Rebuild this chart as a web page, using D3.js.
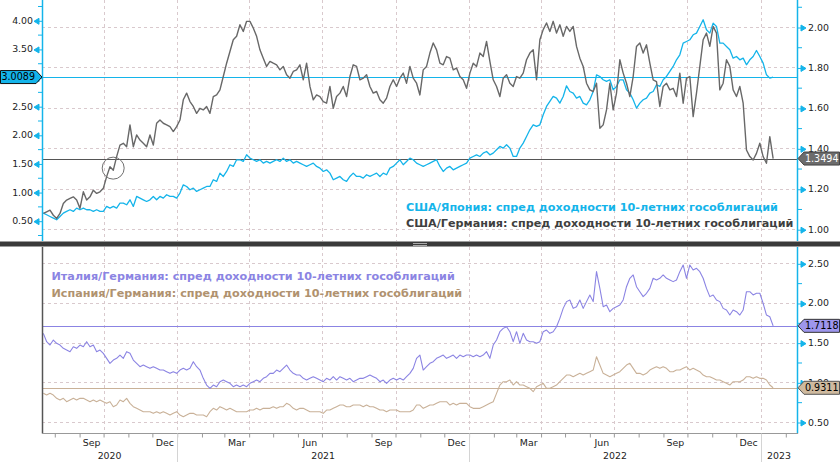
<!DOCTYPE html>
<html><head><meta charset="utf-8">
<script src="https://cdn.jsdelivr.net/npm/d3@7"></script>
<style>html,body{margin:0;padding:0;background:#fff;} svg{display:block;}</style>
</head><body>
<svg id="chart" width="840" height="462"></svg>
<script>
// ---------- DATA ----------
const startTime = [2020, 6, 17, 16];   // first observation (y, m-1, d, h)
const stepHours = 100;                 // spacing of observations

const usJapan = [
0.633,0.604,0.574,0.545,0.516,0.574,0.633,0.662,0.691,0.662,
0.720,0.691,0.720,0.691,0.691,0.662,0.691,0.662,0.662,0.749,
0.720,0.749,0.720,0.807,0.807,0.778,0.865,0.749,0.924,0.894,
0.865,0.836,0.865,0.924,0.865,0.924,0.894,0.953,0.924,0.924,
0.894,0.982,1.127,1.098,1.040,1.069,1.011,1.040,1.069,1.098,
1.098,1.215,1.186,1.331,1.273,1.360,1.477,1.448,1.564,1.564,
1.535,1.651,1.593,1.564,1.535,1.564,1.506,1.535,1.506,1.535,
1.564,1.535,1.593,1.535,1.564,1.506,1.535,1.506,1.477,1.448,
1.477,1.506,1.448,1.418,1.360,1.389,1.331,1.215,1.244,1.273,
1.215,1.186,1.273,1.331,1.273,1.273,1.244,1.302,1.273,1.302,
1.331,1.273,1.331,1.302,1.418,1.448,1.506,1.564,1.477,1.535,
1.593,1.564,1.506,1.477,
1.448,1.477,1.506,1.535,1.564,1.448,1.360,1.418,1.448,1.389,
1.418,1.448,1.477,1.506,1.593,1.622,1.651,1.622,1.680,1.709,
1.651,1.680,1.739,1.797,1.768,1.826,1.768,1.622,1.622,1.768,
1.855,1.971,2.088,2.175,2.146,2.175,2.350,2.495,2.583,2.670,
2.641,2.553,2.670,2.856,2.757,2.728,2.641,2.670,2.553,2.524,
2.612,2.757,3.048,3.019,2.961,2.932,2.961,2.786,2.845,2.961,
2.961,2.786,2.728,2.612,2.466,2.553,2.612,2.641,2.728,2.757,
2.874,2.845,2.961,3.019,3.107,3.194,3.310,3.398,3.601,3.630,
3.660,3.747,3.776,3.892,4.009,3.834,3.776,3.951,3.892,3.601,
3.601,3.543,3.485,3.339,3.368,3.310,3.339,3.223,3.310,3.368,
3.473,3.368,3.252,3.048,2.990,3.0089];

const usGermany = [
1.078,1.086,1.094,1.069,1.053,1.078,1.127,1.144,1.152,1.160,
1.144,1.103,1.185,1.144,1.160,1.193,1.177,1.185,1.202,1.260,
1.309,1.292,1.359,1.416,1.425,1.408,1.516,1.408,1.466,1.441,
1.425,1.408,1.466,1.416,1.524,1.540,1.524,1.516,1.507,1.483,
1.507,1.540,1.640,1.673,1.631,1.607,1.573,1.598,1.590,1.607,
1.573,1.656,1.664,1.689,1.755,1.821,1.879,1.937,1.954,2.011,
1.978,2.028,2.028,1.995,1.954,1.887,1.846,1.805,1.830,1.821,
1.813,1.788,1.805,1.764,1.747,1.780,1.788,1.813,1.739,1.821,
1.706,1.640,1.664,1.656,1.631,1.623,1.706,1.598,1.656,1.673,
1.706,1.656,1.755,1.813,1.805,1.739,1.747,1.764,1.706,1.673,
1.681,1.640,1.623,1.648,1.706,1.739,1.706,1.747,1.772,1.722,
1.805,1.747,1.722,1.664,
1.788,1.805,1.871,1.921,1.887,1.821,1.813,1.854,1.846,1.788,
1.797,1.755,1.739,1.697,1.772,1.821,1.805,1.871,1.854,1.929,
1.830,1.739,1.706,1.656,1.747,1.764,1.722,1.706,1.755,1.747,
1.772,1.838,1.871,1.887,1.739,1.937,1.987,2.020,1.978,2.028,
1.970,2.011,1.954,2.003,1.978,2.003,1.904,1.846,1.805,1.722,
1.689,1.681,1.722,1.499,1.516,1.590,1.722,1.590,1.673,1.838,
1.772,1.722,1.656,1.755,1.904,1.921,1.871,1.912,1.821,1.739,
1.730,1.607,1.706,1.722,1.689,1.697,1.656,1.772,1.623,1.747,
1.755,1.557,1.673,1.805,1.937,1.970,1.904,2.003,1.970,1.689,
1.722,1.838,1.805,1.689,1.656,1.706,1.623,1.392,1.359,1.342,
1.375,1.425,1.359,1.326,1.458,1.3494];

const italyGermany = [
1.617,1.512,1.470,1.533,1.491,1.470,1.428,1.407,1.386,1.449,
1.428,1.470,1.449,1.512,1.449,1.470,1.386,1.407,1.365,1.302,
1.239,1.281,1.302,1.344,1.302,1.386,1.365,1.281,1.239,1.197,
1.218,1.197,1.176,1.197,1.176,1.155,1.155,1.134,1.113,1.134,
1.113,1.155,1.176,1.155,1.176,1.260,1.197,1.155,1.050,0.966,
0.924,0.966,0.945,1.008,1.029,1.008,0.987,0.945,0.966,0.945,
0.966,0.945,0.987,1.008,1.029,1.008,1.050,1.071,1.113,1.113,
1.155,1.134,1.176,1.218,1.155,1.113,1.092,1.092,1.050,1.029,
1.050,1.071,1.050,1.029,1.008,1.050,1.029,1.071,1.029,1.071,
1.050,1.029,1.050,1.008,1.029,1.050,1.050,1.071,1.092,1.071,
1.050,1.008,1.029,0.987,1.029,1.050,1.029,1.050,1.029,1.071,
1.113,1.176,1.302,1.344,
1.155,1.197,1.239,1.260,1.302,1.323,1.344,1.302,1.323,1.344,
1.302,1.344,1.323,1.344,1.344,1.323,1.344,1.323,1.344,1.386,
1.302,1.470,1.533,1.638,1.680,1.701,1.638,1.512,1.638,1.491,
1.617,1.533,1.512,1.512,1.491,1.512,1.638,1.659,1.617,1.638,
1.701,1.806,1.932,2.017,2.038,1.932,1.953,2.038,1.932,2.017,
2.101,2.017,2.395,2.184,1.953,1.974,1.890,1.932,1.953,1.974,
2.038,2.205,2.311,2.353,2.205,2.142,2.080,2.122,2.184,2.311,
2.290,2.311,2.353,2.311,2.290,2.269,2.290,2.395,2.479,2.311,
2.479,2.416,2.437,2.395,2.311,2.184,2.080,2.101,2.038,2.017,
1.932,1.911,1.848,1.911,1.890,1.848,1.911,2.142,2.142,2.101,
2.122,2.122,1.995,1.848,1.827,1.7118];

const spainGermany = [
0.861,0.840,0.861,0.840,0.798,0.777,0.798,0.756,0.777,0.798,
0.777,0.798,0.798,0.777,0.756,0.777,0.756,0.777,0.756,0.735,
0.756,0.693,0.714,0.777,0.756,0.798,0.735,0.693,0.672,0.651,
0.630,0.630,0.630,0.609,0.630,0.609,0.630,0.609,0.588,0.609,
0.630,0.588,0.567,0.588,0.609,0.609,0.588,0.588,0.588,0.567,
0.630,0.672,0.651,0.693,0.672,0.651,0.672,0.651,0.630,0.630,
0.630,0.630,0.651,0.651,0.672,0.651,0.672,0.672,0.672,0.693,
0.672,0.693,0.693,0.735,0.714,0.672,0.651,0.672,0.672,0.651,
0.630,0.630,0.630,0.630,0.609,0.651,0.651,0.672,0.693,0.714,
0.714,0.693,0.693,0.714,0.714,0.714,0.693,0.714,0.693,0.693,
0.672,0.651,0.651,0.630,0.651,0.651,0.651,0.630,0.630,0.630,
0.630,0.651,0.714,0.714,
0.672,0.693,0.714,0.714,0.735,0.756,0.756,0.756,0.714,0.735,
0.714,0.735,0.735,0.735,0.693,0.672,0.672,0.672,0.693,0.714,
0.735,0.756,0.861,0.966,1.008,1.008,1.029,0.966,1.008,0.966,
0.966,0.945,0.924,0.882,0.945,0.966,0.987,0.924,0.924,0.945,
0.966,1.008,1.050,1.092,1.092,1.071,1.092,1.113,1.092,1.113,
1.134,1.155,1.323,1.218,1.113,1.092,1.071,1.092,1.113,1.134,
1.176,1.218,1.239,1.176,1.113,1.113,1.092,1.113,1.155,1.176,
1.197,1.176,1.197,1.176,1.134,1.134,1.155,1.155,1.176,1.197,
1.155,1.176,1.155,1.134,1.092,1.071,1.071,1.050,1.029,1.029,
1.008,0.987,0.966,1.008,1.008,1.008,1.029,1.071,1.071,1.050,
1.071,1.050,1.050,1.029,0.966,0.9311];

// 3.00 is covered by the last-value badge in the reference, so it carries no label
const leftTicksTop = [0.5, 1.0, 1.5, 2.0, 2.5, 3.5, 4.0];
const leftMarkersTop = [0.5, 1.0, 1.5, 2.0, 2.5, 3.0, 3.5, 4.0];
const leftMinorTop = [0.25, 0.75, 1.25, 1.75, 2.25, 2.75, 3.25, 3.75, 4.25];
const rightTicksTop = [1.0, 1.2, 1.4, 1.6, 1.8, 2.0];
const rightMinorTop = [1.1, 1.3, 1.5, 1.7, 1.9, 2.1];
const rightTicksBottom = [0.5, 1.0, 1.5, 2.0, 2.5];
const rightMinorBottom = [0.75, 1.25, 1.75, 2.25];
const monthNames = ["Jan","Feb","Mar","Apr","May","Jun","Jul","Aug","Sep","Oct","Nov","Dec"];
const labelledMonths = [2, 5, 8, 11];
const yearLabels = ["2020", "2021", "2022", "2023"];
const legendTop = ["США/Япония: спред доходности 10-летних гособлигаций",
                   "США/Германия: спред доходности 10-летних гособлигаций"];
const legendBottom = ["Италия/Германия: спред доходности 10-летних гособлигаций",
                      "Испания/Германия: спред доходности 10-летних гособлигаций"];
const circleNote = {date: [2020, 9, 13], value: 1.302};

// ---------- STYLE ----------
const C = {cyan:"#14b4ea", gray:"#686868", grayText:"#3f3f3f", purple:"#8b84e3", tan:"#c9b198",
           tanText:"#b0926f", grid:"#d9c9cd", axisText:"#222"};
const FONT = "DejaVu Sans";

const svg = d3.select("#chart");
const start = new Date(startTime[0], startTime[1], startTime[2], startTime[3]);
const dates = usJapan.map((_, i) => d3.timeHour.offset(start, i * stepHours));

const L = 42, R = 797;
const x = d3.scaleTime().domain([new Date(2020,6,16), new Date(2023,1,15)]).range([L, R]);
const yJp = d3.scaleLinear().domain([0.5, 4.0]).range([220.7, 20.3]);
const yDe = d3.scaleLinear().domain([1.0, 2.0]).range([229.2, 27.0]);
const yEu = d3.scaleLinear().domain([0.5, 2.5]).range([422.0, 263.3]);
const topY0 = 0, topY1 = 241, botY0 = 247, botY1 = 433.5;

// grid
const quarters = d3.timeMonth.every(3).range(x.domain()[0], x.domain()[1]);
const grid = svg.append("g").attr("stroke", C.grid).attr("stroke-dasharray", "3,3").attr("stroke-width", 1);
quarters.forEach(d => {
  const gx = Math.round(x(d)) + 0.5;
  grid.append("line").attr("x1", gx).attr("x2", gx).attr("y1", topY0).attr("y2", topY1);
  grid.append("line").attr("x1", gx).attr("x2", gx).attr("y1", botY0).attr("y2", botY1);
});
rightTicksTop.forEach(v => {
  const gy = Math.round(yDe(v)) + 0.5;
  grid.append("line").attr("x1", L).attr("x2", R).attr("y1", gy).attr("y2", gy);
});
rightTicksBottom.forEach(v => {
  const gy = Math.round(yEu(v)) + 0.5;
  grid.append("line").attr("x1", L).attr("x2", R).attr("y1", gy).attr("y2", gy);
});

// series
function series(vals, y, color, w) {
  const line = d3.line().x((d, i) => x(dates[i])).y(d => y(d));
  svg.append("path").datum(vals).attr("d", line).attr("fill", "none")
     .attr("stroke", color).attr("stroke-width", w).attr("stroke-linejoin", "round");
}
function hline(v, y, color) {
  const yy = Math.round(y(v)) + 0.5;
  svg.append("line").attr("x1", L).attr("x2", R).attr("y1", yy).attr("y2", yy)
     .attr("stroke", color).attr("stroke-width", 1.2);
}
hline(usJapan[usJapan.length-1], yJp, C.cyan);
hline(usGermany[usGermany.length-1], yDe, "#555");
hline(italyGermany[italyGermany.length-1], yEu, C.purple);
hline(spainGermany[spainGermany.length-1], yEu, C.tan);
series(usJapan, yJp, C.cyan, 1.3);
series(usGermany, yDe, C.gray, 1.4);
series(spainGermany, yEu, C.tan, 1.1);
series(italyGermany, yEu, C.purple, 1.1);

// circle annotation
svg.append("circle")
  .attr("cx", x(new Date(circleNote.date[0], circleNote.date[1], circleNote.date[2])))
  .attr("cy", yDe(circleNote.value)).attr("r", 11)
  .attr("fill", "none").attr("stroke", "#707070").attr("stroke-width", 1);

// axes lines
svg.append("line").attr("x1", L+0.5).attr("x2", L+0.5).attr("y1", 0).attr("y2", topY1).attr("stroke", C.cyan).attr("stroke-width", 1.5);
svg.append("line").attr("x1", R+0.5).attr("x2", R+0.5).attr("y1", 0).attr("y2", topY1).attr("stroke", C.cyan).attr("stroke-width", 1.5);
svg.append("line").attr("x1", L+0.5).attr("x2", L+0.5).attr("y1", botY0).attr("y2", botY1).attr("stroke", "#555").attr("stroke-width", 1.5);
svg.append("line").attr("x1", R+0.5).attr("x2", R+0.5).attr("y1", botY0).attr("y2", botY1).attr("stroke", C.cyan).attr("stroke-width", 1.5);
svg.append("line").attr("x1", L).attr("x2", R+1).attr("y1", botY1).attr("y2", botY1).attr("stroke", "#999").attr("stroke-width", 1);

// y axes with d3 axis generators
function yAxis(scale, ticks, markers, minor, side, xPos) {
  const s = side === "left" ? -1 : 1;
  const mk = (side === "left" ? d3.axisLeft(scale) : d3.axisRight(scale)).tickValues(markers).tickSize(0).tickFormat("");
  const gk = svg.append("g").attr("transform", `translate(${xPos},0)`).call(mk);
  gk.select(".domain").remove();
  gk.selectAll(".tick").append("path")
    .attr("d", `M0,0.5H${s*3}M${s*3},-2.5L${s*8},0.5L${s*3},3.5Z`)
    .attr("stroke", C.cyan).attr("fill", C.cyan).attr("stroke-width", 1);
  const gen = (side === "left" ? d3.axisLeft(scale) : d3.axisRight(scale))
     .tickValues(ticks).tickSize(0).tickPadding(side === "left" ? 9 : 10).tickFormat(d3.format(".2f"));
  const g = svg.append("g").attr("transform", `translate(${xPos},0)`).call(gen);
  g.select(".domain").remove();
  g.selectAll("text").attr("font-family", FONT).attr("font-size", 9.4).attr("fill", C.axisText);
  const gm = (side === "left" ? d3.axisLeft(scale) : d3.axisRight(scale))
     .tickValues(minor).tickSize(4).tickFormat("");
  const m = svg.append("g").attr("transform", `translate(${xPos},0)`).call(gm);
  m.select(".domain").remove();
  m.selectAll("line").attr("stroke", C.cyan);
}
yAxis(yJp, leftTicksTop, leftMarkersTop, leftMinorTop, "left", L);
yAxis(yDe, rightTicksTop, rightTicksTop, rightMinorTop, "right", R + 1);
yAxis(yEu, rightTicksBottom, rightTicksBottom, rightMinorBottom, "right", R + 1);

// x axis: month ticks
const xg = svg.append("g").attr("transform", `translate(0,${botY1})`)
  .call(d3.axisBottom(x).ticks(d3.timeMonth.every(1)).tickSize(4).tickFormat(""));
xg.select(".domain").remove();
xg.selectAll("line").attr("stroke", "#9a9a9a");
// year separators
d3.timeYear.range(x.domain()[0], x.domain()[1]).forEach(d => {
  const gx = Math.round(x(d)) + 0.5;
  svg.append("line").attr("x1", gx).attr("x2", gx).attr("y1", botY1).attr("y2", 462).attr("stroke", "#d4d4d4");
});
// month labels
d3.timeMonth.range(x.domain()[0], x.domain()[1]).filter(d => labelledMonths.includes(d.getMonth())).forEach(d => {
  const cx = (x(d) + x(d3.timeMonth.offset(d, 1))) / 2;
  svg.append("text").attr("x", cx).attr("y", 446).attr("text-anchor", "middle")
    .attr("font-family", FONT).attr("font-size", 9.4).attr("fill", C.axisText).text(monthNames[d.getMonth()]);
});
// year labels
yearLabels.forEach(yl => {
  const a = Math.max(x.range()[0], x(new Date(+yl, 0, 1)));
  const b = Math.min(x.range()[1], x(new Date(+yl + 1, 0, 1)));
  svg.append("text").attr("x", (a + b) / 2).attr("y", 459).attr("text-anchor", "middle")
    .attr("font-family", FONT).attr("font-size", 9.4).attr("fill", C.axisText).text(yl);
});

// splitter
svg.append("rect").attr("x", 0).attr("y", 241.5).attr("width", 840).attr("height", 5).attr("fill", "#3a3a3a");
svg.append("line").attr("x1", 413).attr("x2", 427).attr("y1", 243.5).attr("y2", 243.5).attr("stroke", "#aaa");
svg.append("line").attr("x1", 413).attr("x2", 427).attr("y1", 245.5).attr("y2", 245.5).attr("stroke", "#aaa");

// legends
function legend(lines, colors, x0, ys) {
  lines.forEach((t, i) => svg.append("text").attr("x", x0).attr("y", ys[i])
    .attr("font-family", FONT).attr("font-weight", "bold").attr("font-size", 11.2)
    .attr("fill", colors[i]).text(t));
}
legend(legendTop, [C.cyan, C.grayText], 406, [210.5, 227]);
legend(legendBottom, [C.purple, C.tanText], 51.5, [279.5, 297]);

// value badges
function badge(side, y, text, fill, stroke, tcol) {
  const h = 13, p = 6, w = 35.5;
  let pts, tx;
  if (side === "left") {
    const e = L; pts = [[e-p-w,y-h/2],[e-p,y-h/2],[e,y],[e-p,y+h/2],[e-p-w,y+h/2]]; tx = e - p - w/2;
  } else {
    const e = R + 1; pts = [[e,y],[e+p,y-h/2],[e+p+w,y-h/2],[e+p+w,y+h/2],[e+p,y+h/2]]; tx = e + p + w/2;
  }
  svg.append("path").attr("d", "M" + pts.map(q => q.join(",")).join("L") + "Z")
    .attr("fill", fill).attr("stroke", stroke).attr("stroke-width", 1);
  svg.append("text").attr("x", tx).attr("y", y).attr("dy", "0.35em").attr("text-anchor", "middle")
    .attr("font-family", FONT).attr("font-size", 9.6).attr("fill", tcol).text(text);
}
const f4 = d3.format(".4f");
badge("left", yJp(usJapan[usJapan.length-1]), f4(usJapan[usJapan.length-1]), C.cyan, "#111", "#000");
badge("right", yDe(usGermany[usGermany.length-1]), f4(usGermany[usGermany.length-1]), "#6c6c6c", "#444", "#fff");
badge("right", yEu(italyGermany[italyGermany.length-1]), f4(italyGermany[italyGermany.length-1]), "#9d96ec", "#333", "#000");
badge("right", yEu(spainGermany[spainGermany.length-1]), f4(spainGermany[spainGermany.length-1]), "#cfba9f", "#555", "#000");
</script>
</body></html>
